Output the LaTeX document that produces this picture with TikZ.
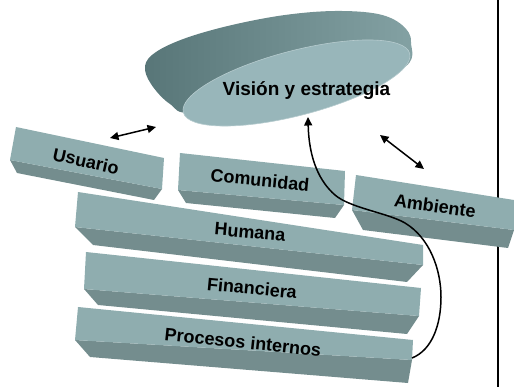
\documentclass[tikz,border=0pt]{standalone}
\usepackage{fontspec}
\setmainfont{Liberation Sans}
\usetikzlibrary{arrows.meta}
\definecolor{slabtop}{RGB}{143,173,175}
\definecolor{slabside}{RGB}{116,141,142}
\definecolor{discface}{RGB}{152,182,186}
\definecolor{discdark}{RGB}{88,118,120}
\definecolor{disclight}{RGB}{132,162,164}
\begin{document}
\begin{tikzpicture}[x=1pt,y=-1pt,
  lbl/.style={font=\fontsize{18}{20}\selectfont\bfseries, inner sep=0pt},
  face/.style={fill=slabtop},
  under/.style={fill=slabside},
  link/.style={line width=1.5pt, -{Triangle[length=8.5pt,width=8pt]}},
  dlink/.style={line width=1.5pt, {Triangle[length=8.5pt,width=8pt]}-{Triangle[length=8.5pt,width=8pt]}}]
\useasboundingbox (0,0) rectangle (514,387);

% vertical rule
\coordinate (lt) at (498,0);
\coordinate (lb) at (498,387);
\draw[line width=1.5pt] (lt) -- (lb);

% disc (Vision y estrategia)
\shade[left color=discdark, right color=disclight]
  plot[smooth cycle, tension=0.6] coordinates {(145,66) (156,52) (186,38) (232,25) (285,15) (335,11) (378,14) (402,25) (411,42) (400,70) (300,100) (195,113) (170,104) (151,84)};
\fill[discface, draw=discface!70!white, line width=0.6pt, shift={(296.5,83)}, rotate=14.6] (0,0) ellipse [x radius=117pt, y radius=32.4pt];
\node[lbl, font=\fontsize{19}{21}\selectfont\bfseries, anchor=base] (vision) at (306.5,95.5) {Visión y estrategia};

% Usuario
\fill[under] (10,160) -- (162,189) -- (154,200) -- (17,173) -- cycle;
\fill[face] (16,127) -- (164,158) -- (162,189) -- (10,160) -- cycle;
\node[lbl, rotate=-12.5] (usuario) at (86,161) {Usuario};

% Comunidad
\fill[under] (178,190) -- (344,205) -- (335,218) -- (186,203) -- cycle;
\fill[face] (180,153) -- (345,171) -- (344,205) -- (178,190) -- cycle;
\node[lbl, rotate=-5.5] (comunidad) at (260,180) {Comunidad};

% Ambiente
\fill[under] (352,210) -- (514,230) -- (508,248) -- (363,230) -- cycle;
\fill[face] (356,175) -- (514,200) -- (514,230) -- (352,210) -- cycle;
\node[lbl, rotate=-8] (ambiente) at (435,206) {Ambiente};

% Humana
\fill[under] (75,227) -- (423,265) -- (407,282) -- (93,245) -- cycle;
\fill[face] (78,192) -- (423,245) -- (423,265) -- (75,227) -- cycle;
\node[lbl, rotate=-5] (humana) at (250,232) {Humana};

% Financiera
\fill[under] (84,289) -- (419,316) -- (407,334) -- (98,305) -- cycle;
\fill[face] (86,252) -- (421,288) -- (419,316) -- (84,289) -- cycle;
\node[lbl, rotate=-5.5] (financiera) at (252,288) {Financiera};

% Procesos internos
\fill[under] (75,340) -- (412,360) -- (408,383) -- (90,357) -- cycle;
\fill[face] (78,307) -- (413,340) -- (412,360) -- (75,340) -- cycle;
\node[lbl, rotate=-6] (procesos) at (243,342) {Procesos internos};

% connectors
\coordinate (ua) at (110,138);
\coordinate (ub) at (156,127);
\draw[dlink] (ua) -- (ub);
\coordinate (aa) at (380,135);
\coordinate (ab) at (424,169);
\draw[dlink] (aa) -- (ab);

\coordinate (pe) at (412,358);
\coordinate (k1) at (441,297);
\coordinate (k2) at (405,223);
\coordinate (k3) at (335,195);
\coordinate (vb) at (308,117);
\draw[link] (pe) .. controls (432,350) and (441,325) .. (k1)
  .. controls (441,270) and (430,238) .. (k2)
  .. controls (388,213) and (350,208) .. (k3)
  .. controls (320,182) and (309,160) .. (vb);
\end{tikzpicture}
\end{document}
